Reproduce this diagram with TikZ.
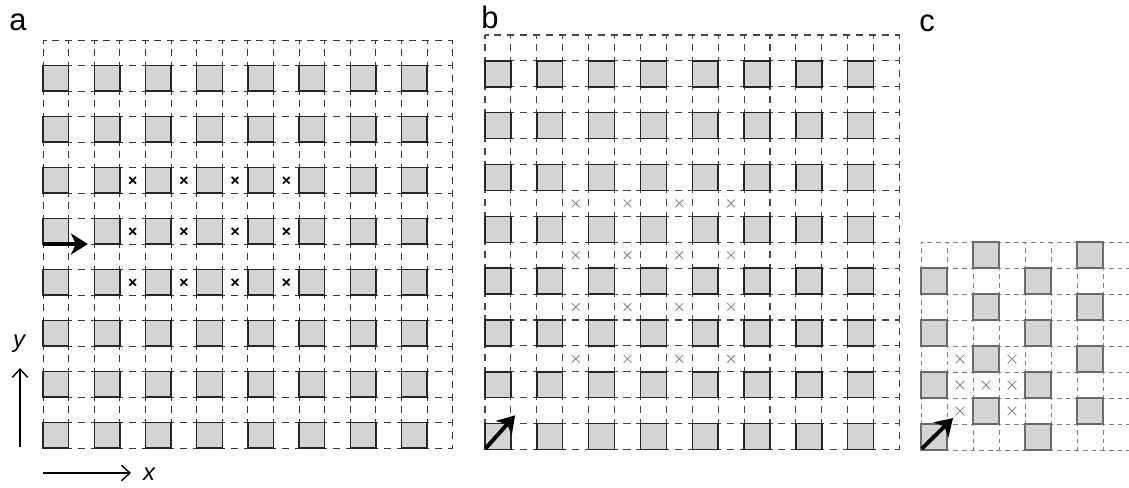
\documentclass[tikz,border=0pt]{standalone}
\usepackage{fontspec}
\setmainfont{Liberation Sans}
\usetikzlibrary{arrows.meta}

\tikzset{
  gridA/.style={black!78, line width=0.7pt, dash pattern=on 5pt off 4.07pt, dash phase=2.5pt},
  gridB/.style={black!72, line width=0.75pt, dash pattern=on 5pt off 4.18pt, dash phase=2.5pt},
  gridC/.style={black!50, line width=0.6pt, dash pattern=on 3.4pt off 2.75pt, dash phase=1.7pt},
  cellsq/.style={fill=black!17, draw=black!85, line width=1pt},
  cellsqC/.style={fill=black!17, draw=black!58, line width=0.9pt},
  xmarkA/.style={black, line width=1.2pt},
  xmarkB/.style={black!50, line width=0.55pt},
  movearrow/.style={black, line width=2.8pt, -{Stealth[length=12pt,width=15pt,inset=3.5pt]}},
  axisarrow/.style={black, line width=1pt, -{Straight Barb[length=6pt,width=11pt,line width=1pt]}},
  panellabel/.style={inner sep=0pt, anchor=base, font=\fontsize{22}{24}\selectfont},
  axislabel/.style={inner sep=0pt, anchor=base, font=\fontsize{17}{20}\selectfont\itshape}
}

\begin{document}
\begin{tikzpicture}[x=0.025cm, y=-0.025cm]
\useasboundingbox (0,0) rectangle (1129,487);

% panel a
\begin{scope}[shift={(43,40)}, x=0.64cm, y=-0.6375cm]
\foreach \i in {0,...,16} {
  \draw[gridA] (\i,0) -- (\i,16);
  \draw[gridA] (0,\i) -- (16,\i);
}
\foreach \c in {0,2,...,14}
  \foreach \r in {1,3,...,15}
    \filldraw[cellsq] (\c,\r) rectangle ++(1,1);
\foreach \c in {3,5,7,9}
  \foreach \r in {5,7,9}
    \draw[xmarkA] (\c+0.37,\r+0.37) -- ++(0.26,0.26) (\c+0.63,\r+0.37) -- ++(-0.26,0.26);
\coordinate (startA) at (0,8);
\coordinate (endA) at (1.75,8);
\draw[movearrow] (startA) -- (endA);
\end{scope}

% axes
\coordinate (yfrom) at (20,447);
\coordinate (yto) at (20,368);
\coordinate (xfrom) at (43,473);
\coordinate (xto) at (131,473);
\draw[axisarrow] (yfrom) -- (yto);
\draw[axisarrow] (xfrom) -- (xto);
\node[axislabel] (ylab) at (19,347) {y};
\node[axislabel] (xlab) at (149,480) {x};

% panel b
\begin{scope}[shift={(485,35)}, x=0.6475cm, y=-0.6475cm]
\foreach \i in {0,...,16} {
  \draw[gridB] (\i,0) -- (\i,16);
  \draw[gridB] (0,\i) -- (16,\i);
}
\foreach \c in {0,2,...,14}
  \foreach \r in {1,3,...,15}
    \filldraw[cellsq] (\c,\r) rectangle ++(1,1);
\foreach \c in {3,5,7,9}
  \foreach \r in {6,8,10,12}
    \draw[xmarkB] (\c+0.35,\r+0.35) -- ++(0.3,0.3) (\c+0.65,\r+0.35) -- ++(-0.3,0.3);
\coordinate (startB) at (0.03,15.95);
\coordinate (endB) at (1.16,14.68);
\draw[movearrow] (startB) -- (endB);
\end{scope}

% panel c
\begin{scope}[shift={(921,242)}, x=0.65cm, y=-0.65cm]
\foreach \i in {0,...,8} {
  \draw[gridC] (\i,0) -- (\i,8);
  \draw[gridC] (0,\i) -- (8,\i);
}
\foreach \r in {0,2,4,6} {
  \filldraw[cellsqC] (2,\r) rectangle ++(1,1);
  \filldraw[cellsqC] (6,\r) rectangle ++(1,1);
}
\foreach \r in {1,3,5,7} {
  \filldraw[cellsqC] (0,\r) rectangle ++(1,1);
  \filldraw[cellsqC] (4,\r) rectangle ++(1,1);
}
\foreach \c/\r in {1/4,3/4,1/5,2/5,3/5,1/6,3/6}
  \draw[xmarkB] (\c+0.33,\r+0.33) -- ++(0.34,0.34) (\c+0.67,\r+0.33) -- ++(-0.34,0.34);
\coordinate (startC) at (0.03,7.95);
\coordinate (endC) at (1.23,6.77);
\draw[movearrow] (startC) -- (endC);
\end{scope}

\node[panellabel] (labA) at (18,30) {a};
\node[panellabel] (labB) at (490,28) {b};
\node[panellabel] (labC) at (927,31) {c};
\end{tikzpicture}
\end{document}
